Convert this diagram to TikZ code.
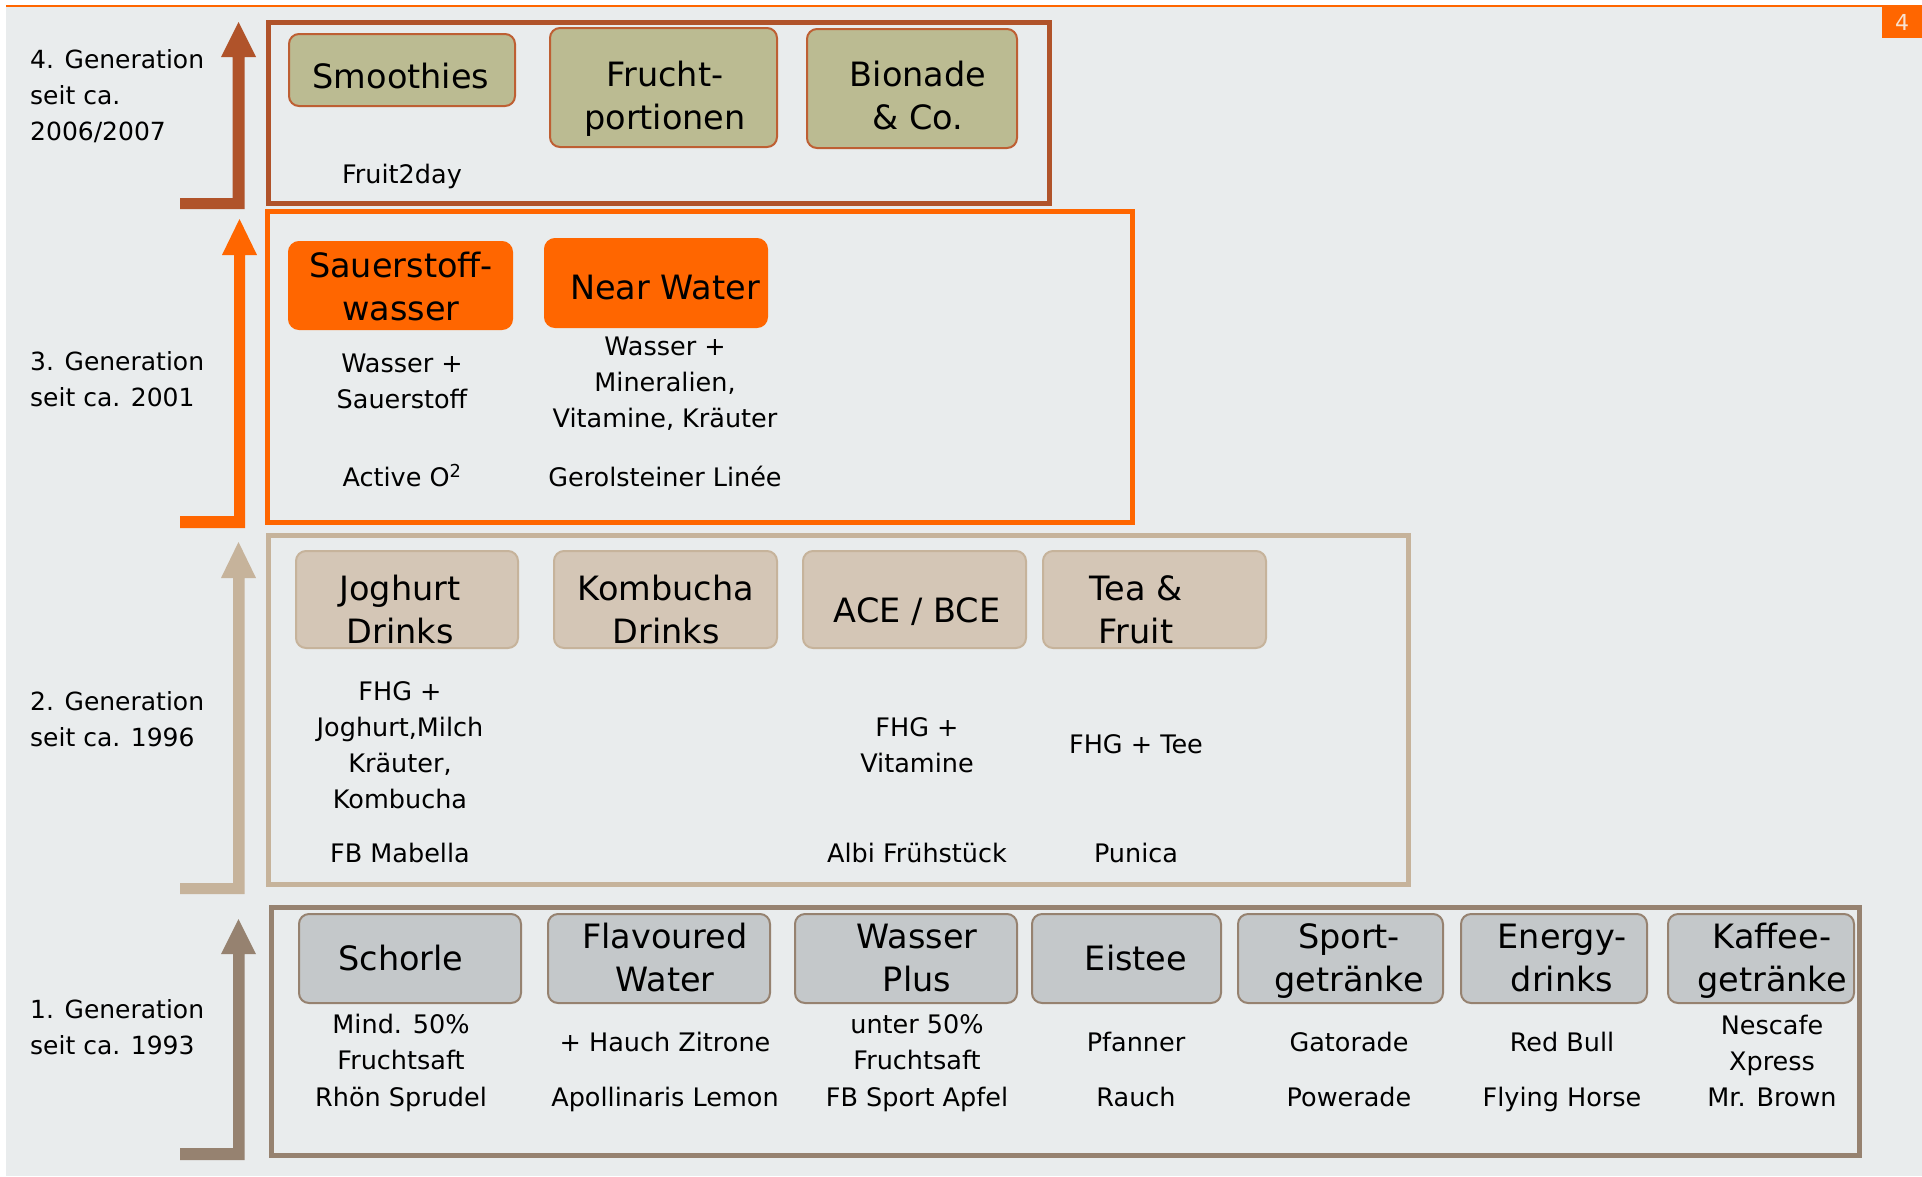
\documentclass[tikz,border=0pt]{standalone}
\usepackage{fontspec}
\setmainfont{DejaVu Sans}
\definecolor{bgc}{HTML}{E9ECED}
\definecolor{orng}{HTML}{FF6600}
\definecolor{rust}{HTML}{B0532A}
\definecolor{rustl}{HTML}{BE5F33}
\definecolor{olivef}{HTML}{BBBB92}
\definecolor{tan}{HTML}{C6B39B}
\definecolor{tanf}{HTML}{D4C6B6}
\definecolor{taupe}{HTML}{968270}
\definecolor{grayf}{HTML}{C4C8CA}
\definecolor{pagetxt}{HTML}{F8E2D0}
\newcommand{\bstr}{\rule[-9.5pt]{0pt}{43pt}}
\newcommand{\sstr}{\rule[-8.5pt]{0pt}{36pt}}
\begin{document}
\begin{tikzpicture}[x=1pt,y=-1pt,
  genframe/.style={draw,line width=5pt},
  bx/.style={draw,line width=2pt,rounded corners=10pt,inner sep=0pt},
  bx4/.style={bx,draw=rustl,fill=olivef},
  bx3/.style={bx,draw=orng,fill=orng},
  bx2/.style={bx,draw=tan,fill=tanf},
  bx1/.style={bx,draw=taupe,fill=grayf},
  bt/.style={font=\fontsize{33.5}{43}\selectfont,align=center,inner sep=0pt},
  st/.style={font=\fontsize{25.5}{36}\selectfont,align=center,inner sep=0pt},
  gl/.style={font=\fontsize{25}{36}\selectfont,align=left,anchor=west,inner sep=0pt}]
\useasboundingbox (0,0) rectangle (1922,1176);
\fill[white] (0,0) rectangle (1922,1176);
\fill[bgc] (6,7) rectangle (1922,1176);
\draw[orng,line width=2pt] (6,6) -- (1922,6);
\node[fill=orng,minimum width=40pt,minimum height=31pt,inner sep=0pt,text=pagetxt,font=\fontsize{22}{26}\selectfont] (page) at (1902,22.5) {4};

% ---------- arrows ----------
\fill[rust] (180,209) -- (244.5,209) -- (244.5,57) -- (256,57) -- (238.5,22) -- (221,57) -- (232.5,57) -- (232.5,198) -- (180,198) -- cycle;
\fill[orng] (180,528) -- (245,528) -- (245,255) -- (257,255) -- (239.5,219) -- (222,255) -- (234,255) -- (234,516) -- (180,516) -- cycle;
\fill[tan] (180,894) -- (244.5,894) -- (244.5,578) -- (256,578) -- (238.5,542) -- (221,578) -- (233,578) -- (233,883) -- (180,883) -- cycle;
\fill[taupe] (180,1160) -- (244.5,1160) -- (244.5,954) -- (256,954) -- (238.5,919) -- (221,954) -- (233,954) -- (233,1148) -- (180,1148) -- cycle;

% ---------- frames ----------
\draw[genframe,rust] (268.5,22.5) rectangle (1049.5,203.5);
\draw[genframe,orng] (267.5,211.5) rectangle (1132.5,522.5);
\draw[genframe,tan] (268.5,535.5) rectangle (1408.5,884.5);
\draw[genframe,taupe] (271.5,907.5) rectangle (1859.5,1155.5);

% ---------- generation labels ----------
\node[gl] (g4) at (30,95) {\sstr 4. Generation\\\sstr seit ca.\\\sstr 2006/2007};
\node[gl] (g3) at (30,379) {\sstr 3. Generation\\\sstr seit ca. 2001};
\node[gl] (g2) at (30,719) {\sstr 2. Generation\\\sstr seit ca. 1996};
\node[gl] (g1) at (30,1027) {\sstr 1. Generation\\\sstr seit ca. 1993};

% ---------- generation 4 ----------
\node[bx4,minimum width=226pt,minimum height=72pt] (smoothies) at (402,70) {};
\node[bx4,minimum width=227pt,minimum height=119pt] (frucht) at (663.5,87.5) {};
\node[bx4,minimum width=210pt,minimum height=119pt] (bionade) at (912,88.5) {};
\node[bt] (smoothiesT) at (401,76) {\bstr Smoothies};
\node[bt] (fruchtT) at (665,95.75) {\bstr Frucht-\\\bstr portionen};
\node[bt] (bionadeT) at (918,95.75) {\bstr Bionade\\\bstr \& Co.};
\node[st] (fruit2day) at (402,174) {\sstr Fruit2day};

% ---------- generation 3 ----------
\node[bx3,minimum width=223pt,minimum height=87pt] (sauer) at (400.5,285.5) {};
\node[bx3,minimum width=222pt,minimum height=88pt] (near) at (656,283) {};
\node[bt] (sauerT) at (401,287.25) {\bstr Sauerstoff-\\\bstr wasser};
\node[bt] (nearT) at (665,287) {\bstr Near Water};
\node[st] (sauerD) at (402,380.5) {\sstr Wasser +\\\sstr Sauerstoff};
\node[st] (nearD) at (665,381.5) {\sstr Wasser +\\\sstr Mineralien,\\\sstr Vitamine, Kräuter};
\node[st] (active) at (402,477) {\sstr Active O\textsuperscript{2}};
\node[st] (gerol) at (665,477) {\sstr Gerolsteiner Linée};

% ---------- generation 2 ----------
\node[bx2,minimum width=222pt,minimum height=97pt] (jog) at (407,599.5) {};
\node[bx2,minimum width=223pt,minimum height=97pt] (kom) at (665.5,599.5) {};
\node[bx2,minimum width=223pt,minimum height=97pt] (ace) at (914.5,599.5) {};
\node[bx2,minimum width=223pt,minimum height=97pt] (tea) at (1154.5,599.5) {};
\node[bt] (jogT) at (400,610.3) {\bstr Joghurt\\\bstr Drinks};
\node[bt] (komT) at (666,610.3) {\bstr Kombucha\\\bstr Drinks};
\node[bt] (aceT) at (917,610) {\bstr ACE / BCE};
\node[bt] (teaT) at (1136,610.3) {\bstr Tea \&\\\bstr Fruit};
\node[st] (jogD) at (400,744.5) {\sstr FHG +\\\sstr Joghurt,Milch\\\sstr Kräuter,\\\sstr Kombucha};
\node[st] (aceD) at (917,744.5) {\sstr FHG +\\\sstr Vitamine};
\node[st] (teaD) at (1136,744) {\sstr FHG + Tee};
\node[st] (jogB) at (400,853) {\sstr FB Mabella};
\node[st] (aceB) at (917,853) {\sstr Albi Frühstück};
\node[st] (teaB) at (1136,853) {\sstr Punica};

% ---------- generation 1 ----------
\node[bx1,minimum width=222pt,minimum height=89pt] (schorle) at (410,958.5) {};
\node[bx1,minimum width=222pt,minimum height=89pt] (flav) at (659,958.5) {};
\node[bx1,minimum width=222pt,minimum height=89pt] (wplus) at (906,958.5) {};
\node[bx1,minimum width=189pt,minimum height=89pt] (eistee) at (1126.5,958.5) {};
\node[bx1,minimum width=205pt,minimum height=89pt] (sport) at (1340.5,958.5) {};
\node[bx1,minimum width=186pt,minimum height=89pt] (energy) at (1554,958.5) {};
\node[bx1,minimum width=186pt,minimum height=89pt] (kaffee) at (1761,958.5) {};
\node[bt] (schorleT) at (401,958.3) {\bstr Schorle};
\node[bt] (flavT) at (665,958.3) {\bstr Flavoured\\\bstr Water};
\node[bt] (wplusT) at (917,958.3) {\bstr Wasser\\\bstr Plus};
\node[bt] (eisteeT) at (1136,958.3) {\bstr Eistee};
\node[bt] (sportT) at (1349,958.3) {\bstr Sport-\\\bstr getränke};
\node[bt] (energyT) at (1562,958.3) {\bstr Energy-\\\bstr drinks};
\node[bt] (kaffeeT) at (1772,958.3) {\bstr Kaffee-\\\bstr getränke};
\node[st] (schorleD) at (401,1042) {\sstr Mind. 50\%\\\sstr Fruchtsaft};
\node[st] (flavD) at (665,1042) {\sstr + Hauch Zitrone};
\node[st] (wplusD) at (917,1042) {\sstr unter 50\%\\\sstr Fruchtsaft};
\node[st] (eisteeD) at (1136,1042) {\sstr Pfanner};
\node[st] (sportD) at (1349,1042) {\sstr Gatorade};
\node[st] (energyD) at (1562,1042) {\sstr Red Bull};
\node[st] (kaffeeD) at (1772,1043) {\sstr Nescafe\\\sstr Xpress};
\node[st] (schorleB) at (401,1097) {\sstr Rhön Sprudel};
\node[st] (flavB) at (665,1097) {\sstr Apollinaris Lemon};
\node[st] (wplusB) at (917,1097) {\sstr FB Sport Apfel};
\node[st] (eisteeB) at (1136,1097) {\sstr Rauch};
\node[st] (sportB) at (1349,1097) {\sstr Powerade};
\node[st] (energyB) at (1562,1097) {\sstr Flying Horse};
\node[st] (kaffeeB) at (1772,1097) {\sstr Mr. Brown};
\end{tikzpicture}
\end{document}
